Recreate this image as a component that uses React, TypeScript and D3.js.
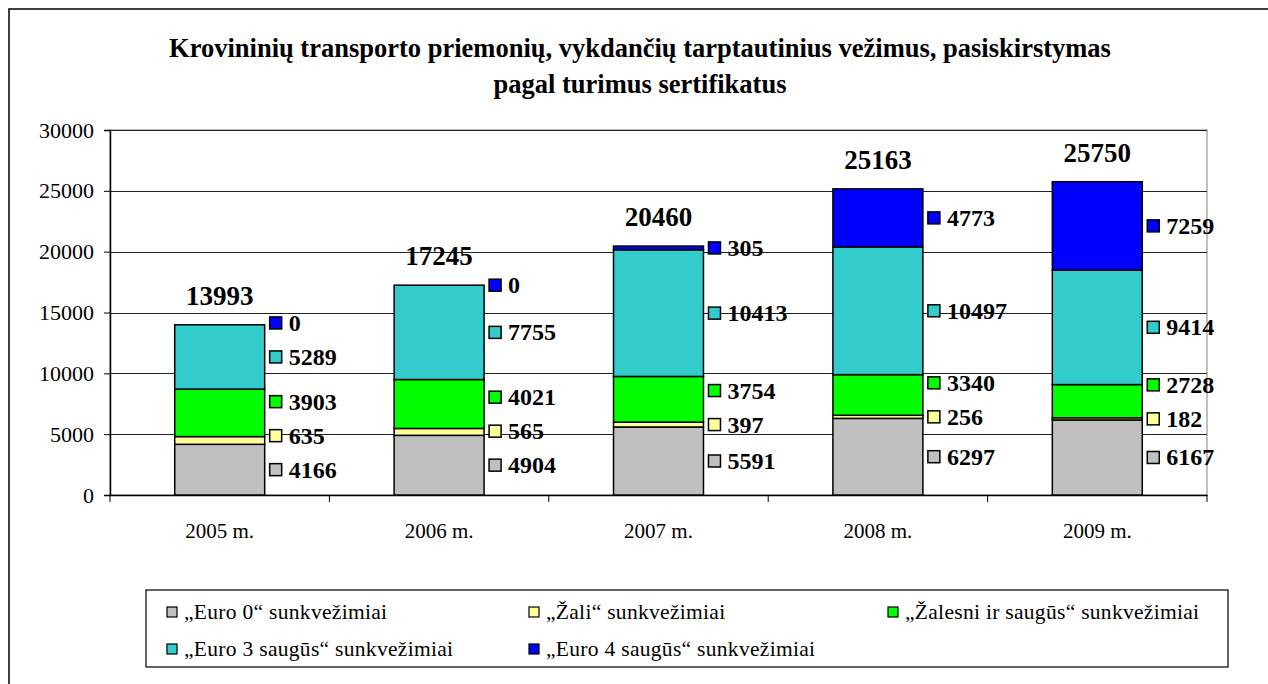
import React, { useEffect, useRef } from "react";
import * as d3 from "d3";

// chart data
const years = ["2005 m.", "2006 m.", "2007 m.", "2008 m.", "2009 m."];
const euro0 = [4166, 4904, 5591, 6297, 6167];
const zali = [635, 565, 397, 256, 182];
const zalesni = [3903, 4021, 3754, 3340, 2728];
const euro3 = [5289, 7755, 10413, 10497, 9414];
const euro4 = [0, 0, 305, 4773, 7259];
const yTicks = [0, 5000, 10000, 15000, 20000, 25000, 30000];

const seriesNames = [
  "\u201EEuro 0\u201C sunkvežimiai",
  "\u201EŽali\u201C sunkvežimiai",
  "\u201EŽalesni ir saugūs\u201C sunkvežimiai",
  "\u201EEuro 3 saugūs\u201C sunkvežimiai",
  "\u201EEuro 4 saugūs\u201C sunkvežimiai",
];
const seriesColors = ["#C0C0C0", "#FFFF99", "#00FF00", "#33CCCC", "#0000FF"];

const titleLines = [
  "Krovininių transporto priemonių, vykdančių tarptautinius vežimus, pasiskirstymas",
  "pagal turimus sertifikatus",
];

const FONT = "Liberation Serif";

export default function App() {
  const ref = useRef<SVGSVGElement>(null);

  useEffect(() => {
    const svg = d3.select(ref.current);
    svg.selectAll("*").remove();

    const plot = { left: 110, top: 130, right: 1207, bottom: 495 };

    // outer frame
    svg.append("rect")
      .attr("x", 9).attr("y", 9)
      .attr("width", 1280).attr("height", 700)
      .attr("fill", "#fff").attr("stroke", "#000").attr("stroke-width", 1.5);

    // title
    svg.append("g").selectAll("text")
      .data(titleLines).join("text")
      .attr("x", 640)
      .attr("y", (d, i) => 57 + i * 36)
      .attr("text-anchor", "middle")
      .attr("font-family", FONT)
      .attr("font-weight", "bold")
      .attr("font-size", 26.5)
      .text(d => d);

    const rows = years.map((y, i) => ({
      year: y,
      e0: euro0[i], z: zali[i], zs: zalesni[i], e3: euro3[i], e4: euro4[i],
    }));
    const keys = ["e0", "z", "zs", "e3", "e4"];
    const stacked = d3.stack<any>().keys(keys)(rows);
    const totals = rows.map(r => d3.sum(keys, k => r[k]));

    const x = d3.scaleBand().domain(years).range([plot.left, plot.right]).padding(0);
    const y = d3.scaleLinear().domain([0, 30000]).range([plot.bottom, plot.top]);
    const barW = x.bandwidth() * 0.41;
    const barX = (yr: string) => x(yr)! + (x.bandwidth() - barW) / 2;

    // plot area border
    svg.append("rect")
      .attr("x", plot.left).attr("y", plot.top)
      .attr("width", plot.right - plot.left).attr("height", plot.bottom - plot.top)
      .attr("fill", "none").attr("stroke", "#808080").attr("stroke-width", 1);

    // gridlines
    svg.append("g").selectAll("line")
      .data(yTicks.filter(t => t > 0)).join("line")
      .attr("x1", plot.left).attr("x2", plot.right)
      .attr("y1", d => Math.round(y(d)) + 0.5).attr("y2", d => Math.round(y(d)) + 0.5)
      .attr("stroke", "#222").attr("stroke-width", 1);

    // y axis
    const yAxis = svg.append("g")
      .attr("transform", `translate(${plot.left},0)`)
      .call(d3.axisLeft(y).tickValues(yTicks).tickSize(6).tickPadding(10).tickFormat(d3.format("d")))
      .attr("font-family", FONT).attr("font-size", 22);
    yAxis.select(".domain").attr("stroke", "#000").attr("stroke-width", 1.5);
    yAxis.selectAll(".tick line").attr("stroke", "#000");
    yAxis.selectAll("text").attr("fill", "#000");

    // x axis
    const xAxis = svg.append("g")
      .attr("transform", `translate(0,${plot.bottom})`)
      .call(d3.axisBottom(x).tickSize(0).tickPadding(28))
      .attr("font-family", FONT).attr("font-size", 21);
    xAxis.select(".domain").attr("stroke", "#000").attr("stroke-width", 1.5);
    xAxis.selectAll("text").attr("fill", "#000");
    svg.append("g").selectAll("line")
      .data(d3.range(years.length + 1)).join("line")
      .attr("x1", d => plot.left + d * x.step()).attr("x2", d => plot.left + d * x.step())
      .attr("y1", plot.bottom).attr("y2", plot.bottom + 7)
      .attr("stroke", "#000");

    // bars
    svg.append("g").selectAll("g")
      .data(stacked).join("g")
      .attr("fill", (d, i) => seriesColors[i])
      .selectAll("rect")
      .data(d => d.filter(s => s[1] - s[0] > 0)).join("rect")
      .attr("x", d => barX(d.data.year))
      .attr("y", d => y(d[1]))
      .attr("width", barW)
      .attr("height", d => y(d[0]) - y(d[1]))
      .attr("stroke", "#000").attr("stroke-width", 1.5);

    // value labels with legend keys, pushed apart where they crowd
    const labelG = svg.append("g")
      .attr("font-family", FONT).attr("font-weight", "bold").attr("font-size", 24);
    rows.forEach((r, i) => {
      const ys: number[] = [];
      stacked.forEach((s, k) => {
        let pos = y((s[i][0] + s[i][1]) / 2);
        if (k > 0) pos = Math.min(pos, ys[k - 1] - 34);
        ys.push(pos);
      });
      const mx = barX(r.year) + barW + 5;
      stacked.forEach((s, k) => {
        labelG.append("rect")
          .attr("x", mx).attr("y", ys[k] - 6)
          .attr("width", 12).attr("height", 12)
          .attr("fill", seriesColors[k]).attr("stroke", "#000").attr("stroke-width", 1.5);
        labelG.append("text")
          .attr("x", mx + 19).attr("y", ys[k] + 8)
          .text((s[i].data as any)[keys[k]]);
      });
    });

    // totals
    svg.append("g").selectAll("text")
      .data(totals).join("text")
      .attr("x", (d, i) => x(years[i])! + x.bandwidth() / 2)
      .attr("y", d => y(d) - 20)
      .attr("text-anchor", "middle")
      .attr("font-family", FONT).attr("font-weight", "bold").attr("font-size", 27)
      .text(d => d);

    // legend
    const lg = svg.append("g").attr("font-family", FONT).attr("font-size", 21.5)
      .attr("letter-spacing", 0.3);
    lg.append("rect")
      .attr("x", 146).attr("y", 590).attr("width", 1082).attr("height", 77)
      .attr("fill", "#fff").attr("stroke", "#000").attr("stroke-width", 1.2);
    const colX = [167, 529, 888];
    seriesNames.forEach((name, i) => {
      const cx = colX[i % 3];
      const cy = 612 + Math.floor(i / 3) * 37;
      lg.append("rect")
        .attr("x", cx).attr("y", cy - 5).attr("width", 10).attr("height", 10)
        .attr("fill", seriesColors[i]).attr("stroke", "#000").attr("stroke-width", 1.2);
      lg.append("text")
        .attr("x", cx + 17).attr("y", cy + 7)
        .text(name);
    });
  }, []);

  return (
    <svg ref={ref} width={1268} height={684}
      style={{ position: "absolute", left: 0, top: 0, background: "#fff" }} />
  );
}
